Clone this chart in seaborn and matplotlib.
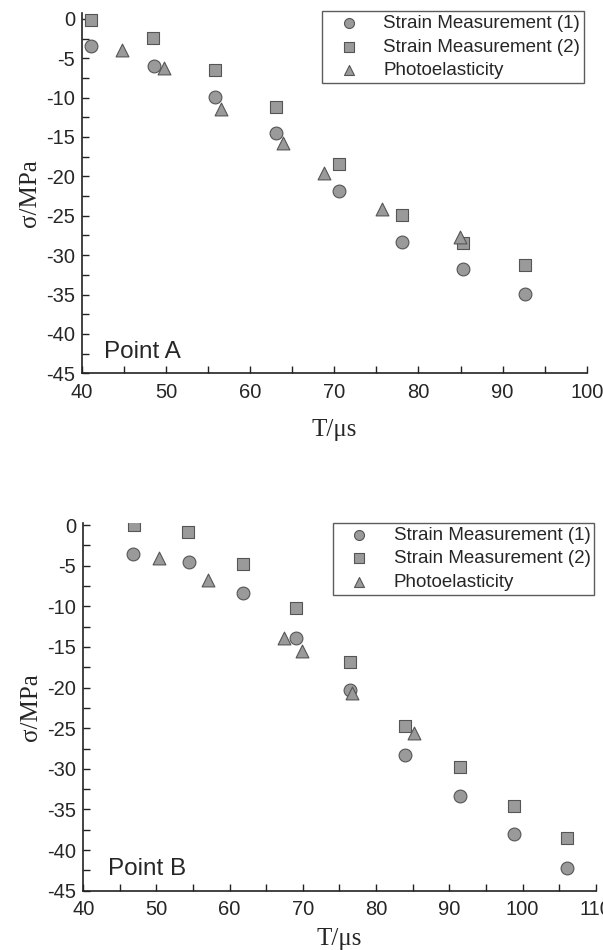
import numpy as np
import pandas as pd
import matplotlib
matplotlib.use("Agg")
import matplotlib.pyplot as plt
import seaborn as sns
from matplotlib.ticker import MultipleLocator

# Point A data
a_s1_t = [41.1, 48.5, 55.8, 63.1, 70.5, 78.0, 85.3, 92.7]
a_s1_sigma = [-3.4, -6.0, -9.9, -14.5, -21.9, -28.3, -31.8, -34.9]
a_s2_t = [41.1, 48.4, 55.8, 63.1, 70.5, 78.0, 85.3, 92.7]
a_s2_sigma = [-0.1, -2.4, -6.5, -11.2, -18.4, -24.9, -28.4, -31.3]
a_ph_t = [44.8, 49.7, 56.5, 63.9, 68.8, 75.7, 84.9]
a_ph_sigma = [-3.9, -6.2, -11.4, -15.8, -19.6, -24.1, -27.7]

# Point B data
b_s1_t = [46.8, 54.4, 61.8, 69.1, 76.4, 83.9, 91.4, 98.8, 106.1]
b_s1_sigma = [-3.5, -4.6, -8.4, -13.9, -20.3, -28.3, -33.4, -38.0, -42.2]
b_s2_t = [46.9, 54.3, 61.8, 69.1, 76.4, 83.9, 91.4, 98.8, 106.1]
b_s2_sigma = [0.0, -0.9, -4.8, -10.2, -16.8, -24.7, -29.8, -34.6, -38.5]
b_ph_t = [50.3, 57.0, 67.4, 69.9, 76.7, 85.2]
b_ph_sigma = [-4.1, -6.8, -13.9, -15.5, -20.7, -25.6]

labels = ["Strain Measurement (1)", "Strain Measurement (2)", "Photoelasticity"]
markers = ["o", "s", "^"]

sns.set_theme(style="ticks")
plt.rcParams["font.family"] = ["Liberation Sans", "DejaVu Sans"]
plt.rcParams["axes.unicode_minus"] = False

FILL = "#9a9a9a"
EDGE = "#555555"


def make_df(series):
    frames = []
    for lab, (t, s) in zip(labels, series):
        frames.append(pd.DataFrame({"T": t, "sigma": s, "series": lab}))
    return pd.concat(frames, ignore_index=True)


def draw(ax, df, xmax, ytop, point_label, label_xy, leg_anchor, xlabelpad):
    for lab, mk in zip(labels, markers):
        sub = df[df["series"] == lab]
        size = 85 if mk != "s" else 75
        sns.scatterplot(data=sub, x="T", y="sigma", ax=ax, marker=mk, s=size,
                        color=FILL, edgecolor=EDGE, linewidth=0.8, label=lab,
                        zorder=3)
    ax.set_xlim(40, xmax)
    ax.set_ylim(-45, ytop)
    ax.xaxis.set_major_locator(MultipleLocator(10))
    ax.xaxis.set_minor_locator(MultipleLocator(5))
    ax.yaxis.set_major_locator(MultipleLocator(5))
    ax.yaxis.set_minor_locator(MultipleLocator(2.5))
    ax.tick_params(which="both", direction="in", length=5, width=1, color="#222222",
                   labelsize=14.5)
    ax.tick_params(axis="x", which="both", pad=7)
    ax.tick_params(axis="y", which="both", pad=5)
    for side in ["top", "right"]:
        ax.spines[side].set_visible(False)
    for side in ["left", "bottom"]:
        ax.spines[side].set_color("#222222")
        ax.spines[side].set_linewidth(1.2)
    ax.set_xlabel("T/\u03bcs", family="Liberation Serif", fontsize=18, labelpad=xlabelpad)
    ax.set_ylabel("\u03c3/MPa", family="Liberation Serif", fontsize=18, labelpad=4)
    ax.text(label_xy[0], label_xy[1], point_label, fontsize=17.5, ha="left", va="center")
    leg = ax.legend(loc="upper right", bbox_to_anchor=leg_anchor, frameon=True,
                    fancybox=False, fontsize=13.5, markerscale=0.78,
                    labelspacing=0.35, borderpad=0.2, handlelength=2.45,
                    handletextpad=0.6, borderaxespad=0)
    leg.get_frame().set_edgecolor("#333333")
    leg.get_frame().set_linewidth(1.0)


fig = plt.figure(figsize=(6.03, 9.5), dpi=100)
ax1 = fig.add_axes([0.136, 0.607, 0.837, 0.379])
ax2 = fig.add_axes([0.138, 0.0624, 0.850, 0.3874])

df_a = make_df([(a_s1_t, a_s1_sigma), (a_s2_t, a_s2_sigma), (a_ph_t, a_ph_sigma)])
df_b = make_df([(b_s1_t, b_s1_sigma), (b_s2_t, b_s2_sigma), (b_ph_t, b_ph_sigma)])

draw(ax1, df_a, 100, 0.7, "Point A", (42.6, -42.3), (0.994, 1.006), 12)
draw(ax2, df_b, 110, 0.3, "Point B", (43.4, -42.3), (0.997, 1.0), 6)

fig.savefig("out.png", dpi=100)
